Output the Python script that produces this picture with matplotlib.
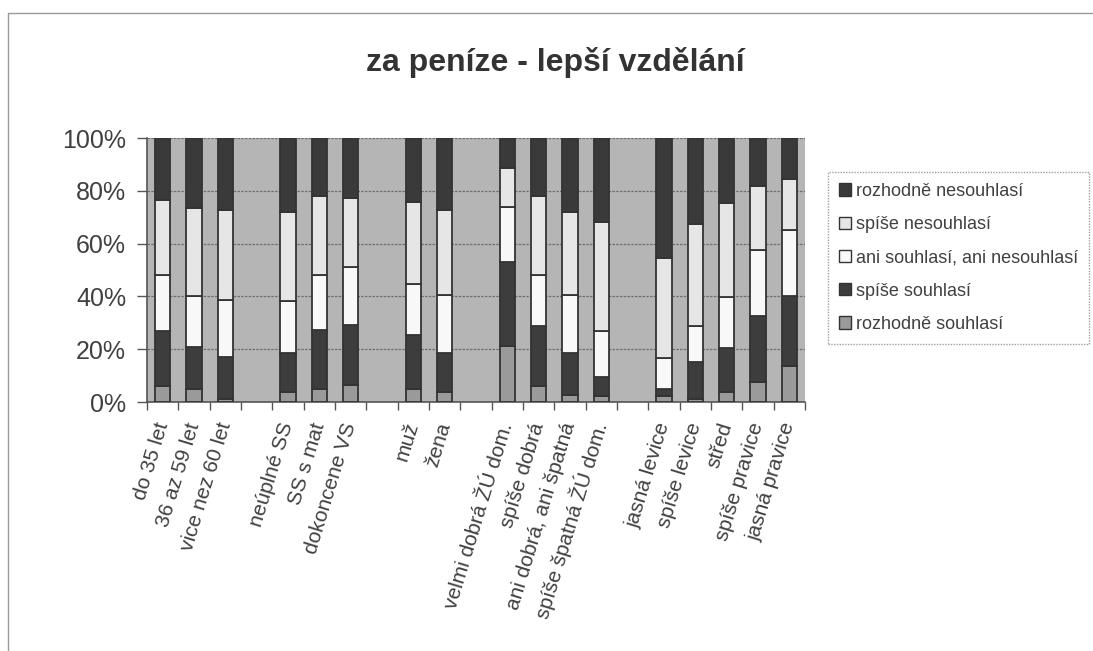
import matplotlib
matplotlib.use("Agg")
import matplotlib.pyplot as plt
from matplotlib.patches import Patch, Rectangle
import numpy as np

matplotlib.rcParams["font.family"] = ["Liberation Sans", "DejaVu Sans"]

# categories, "" marks the empty slot between groups
labels = ["do 35 let", "36 az 59 let", "vice nez 60 let", "",
          "neúplné SS", "SS s mat", "dokoncene VS", "",
          "muž", "žena", "",
          "velmi dobrá ŽÚ dom.", "spíše dobrá", "ani dobrá, ani špatná", "spíše špatná ŽÚ dom.", "",
          "jasná levice", "spíše levice", "střed", "spíše pravice", "jasná pravice"]

series = ["rozhodně souhlasí", "spíše souhlasí", "ani souhlasí, ani nesouhlasí",
          "spíše nesouhlasí", "rozhodně nesouhlasí"]

# percentages per real category (gaps skipped), bottom to top
rozhodne_souhlasi = [6.0, 5.0, 1.3, 3.8, 5.1, 6.6, 5.1, 3.8, 21.2, 6.0, 2.8, 2.2, 2.2, 1.3, 3.8, 7.4, 13.6]
spise_souhlasi = [21.0, 16.0, 15.8, 14.9, 22.1, 22.6, 20.4, 14.9, 31.8, 22.6, 15.9, 7.3, 2.9, 13.7, 16.5, 25.0, 26.4]
ani = [21.0, 19.0, 21.6, 19.4, 20.8, 22.1, 19.3, 21.8, 20.9, 19.4, 21.8, 17.4, 11.7, 13.9, 19.4, 25.0, 25.0]
spise_nesouhlasi = [28.5, 33.5, 34.1, 34.0, 30.2, 26.1, 31.1, 32.3, 14.9, 30.2, 31.6, 41.4, 37.8, 38.6, 35.6, 24.6, 19.3]
rozhodne_nesouhlasi = [23.5, 26.5, 27.2, 27.9, 21.8, 22.6, 24.1, 27.2, 11.2, 21.8, 27.9, 31.7, 45.4, 32.5, 24.7, 18.0, 15.7]

colors = ["#9a9a9a", "#3d3d3d", "#f8f8f8", "#e6e6e6", "#3a3a3a"]
text_color = "#404040"

fig = plt.figure(figsize=(10.93, 6.51), dpi=100)
fig.patches.append(Rectangle((8 / 1093, -0.1), 1.2, 1 - 13 / 651 + 0.1, transform=fig.transFigure,
                             fill=False, edgecolor="#9a9a9a", linewidth=1.0))
ax = fig.add_axes([147 / 1093, 1 - 402 / 651, 658 / 1093, 264 / 651])
ax.set_facecolor("#b5b5b5")

pos = np.array([i for i, lab in enumerate(labels) if lab != ""])
data = np.array([rozhodne_souhlasi, spise_souhlasi, ani, spise_nesouhlasi, rozhodne_nesouhlasi])
data = data / data.sum(axis=0) * 100

bottom = np.zeros(len(pos))
for vals, col in zip(data, colors):
    ax.bar(pos, vals, bottom=bottom, width=0.48, color=col, edgecolor="#333333", linewidth=1.3, zorder=3)
    bottom += vals

ax.set_xlim(-0.5, len(labels) - 0.5)
ax.set_ylim(0, 100)
ax.set_yticks([0, 20, 40, 60, 80, 100])
ax.set_yticklabels([f"{v}%" for v in [0, 20, 40, 60, 80, 100]], fontsize=18, color=text_color)
ax.yaxis.grid(True, color="#6e6e6e", linewidth=0.9, linestyle=(0, (2, 1)), zorder=1)
ax.tick_params(axis="y", length=7, width=1, color="#555555", pad=8)

ax.set_xticks(pos)
ax.set_xticklabels([labels[i] for i in pos], rotation=73, ha="right", va="center",
                   rotation_mode="anchor", fontsize=15, color=text_color)
ax.set_xticks(np.arange(-0.5, len(labels)), minor=True)
ax.tick_params(axis="x", which="major", length=0, pad=15)
ax.tick_params(axis="x", which="minor", length=6, width=1, color="#555555")

for s in ["top", "right"]:
    ax.spines[s].set_visible(False)
for s in ["left", "bottom"]:
    ax.spines[s].set_color("#555555")
    ax.spines[s].set_linewidth(1.2)

handles = [Patch(facecolor=c, edgecolor="#333333", linewidth=1.0, label=l)
           for c, l in zip(colors, series)][::-1]
leg = fig.legend(handles=handles, loc="upper left", bbox_to_anchor=(828 / 1093, 1 - 172 / 651),
                 fontsize=13, frameon=True, fancybox=False, handlelength=0.65, handleheight=0.65,
                 handletextpad=0.3, labelspacing=0.9, borderpad=0.6, borderaxespad=0,
                 labelcolor=text_color)
leg.get_frame().set_edgecolor("#888888")
leg.get_frame().set_linestyle((0, (1, 1)))
leg.get_frame().set_linewidth(1.0)

fig.text(555 / 1093, 1 - 62 / 651, "za peníze - lepší vzdělání", ha="center", va="center",
         fontsize=23, fontweight="bold", color="#333333")

fig.savefig("out.png", dpi=100)
